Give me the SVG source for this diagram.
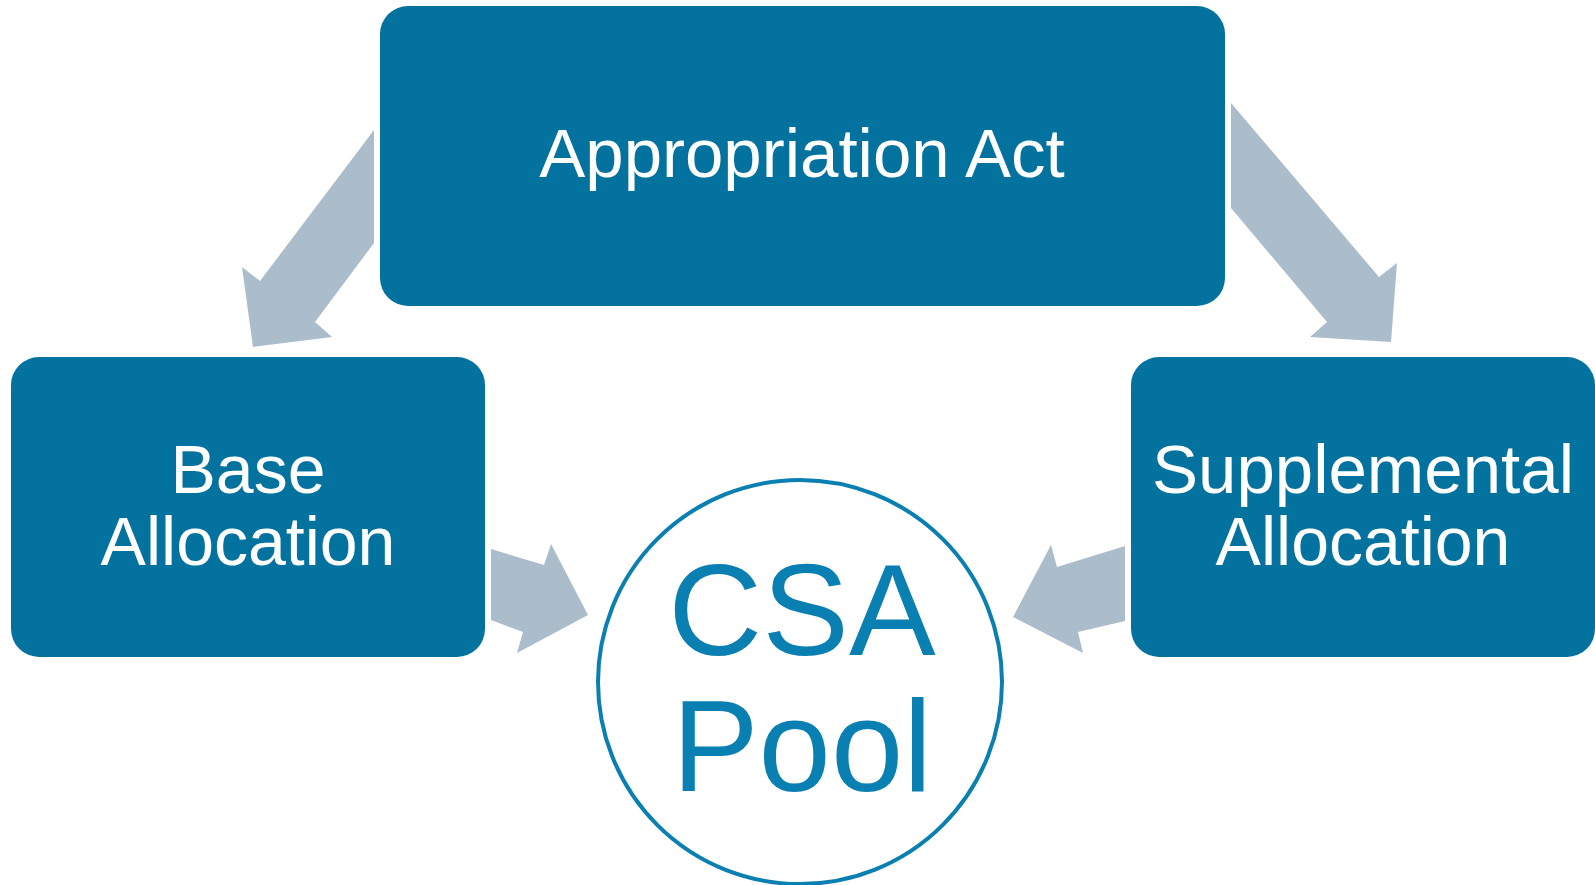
<svg xmlns="http://www.w3.org/2000/svg" width="1595" height="885" viewBox="0 0 1595 885">
<style>
.box{fill:#03729f}
.arrow{fill:#abbccb}
.lbl{font-family:"Liberation Sans",Arial,sans-serif;fill:#ffffff;text-anchor:middle}
.pool{font-family:"Liberation Sans",Arial,sans-serif;fill:#0a7fb1;text-anchor:middle}
</style>
<rect width="1595" height="885" fill="#ffffff"/>
<g id="connectors">
<polygon class="arrow" points="374,130 374,243 315,322 332,337 253,347 242,267 260,281"/>
<polygon class="arrow" points="1231,103 1231,208 1327,322 1310,337 1391,342 1397,263 1379,277"/>
<polygon class="arrow" points="491,549 544,565 551,544 588,615 517,653 523,632 491,620"/>
<polygon class="arrow" points="1125,546 1057,567 1051,545 1013,617 1083,653 1078,632 1125,621"/>
</g>
<g id="node-appropriation">
<rect class="box" x="380" y="6" width="845" height="300" rx="28" ry="28"/>
<text class="lbl" x="802" y="177" font-size="69">Appropriation Act</text>
</g>
<g id="node-base">
<rect class="box" x="11" y="357" width="474" height="300" rx="28" ry="28"/>
<text class="lbl" x="248" y="493" font-size="68">Base</text>
<text class="lbl" x="248" y="565" font-size="68">Allocation</text>
</g>
<g id="node-supplemental">
<rect class="box" x="1131" y="357" width="464" height="300" rx="28" ry="28"/>
<text class="lbl" x="1363" y="493" font-size="69">Supplemental</text>
<text class="lbl" x="1363" y="565" font-size="68">Allocation</text>
</g>
<g id="node-pool">
<circle cx="800" cy="682" r="202" fill="#ffffff" stroke="#0a7fb1" stroke-width="4"/>
<text class="pool" x="802" y="655" font-size="130">CSA</text>
<text class="pool" x="802" y="791" font-size="130">Pool</text>
</g>
</svg>
